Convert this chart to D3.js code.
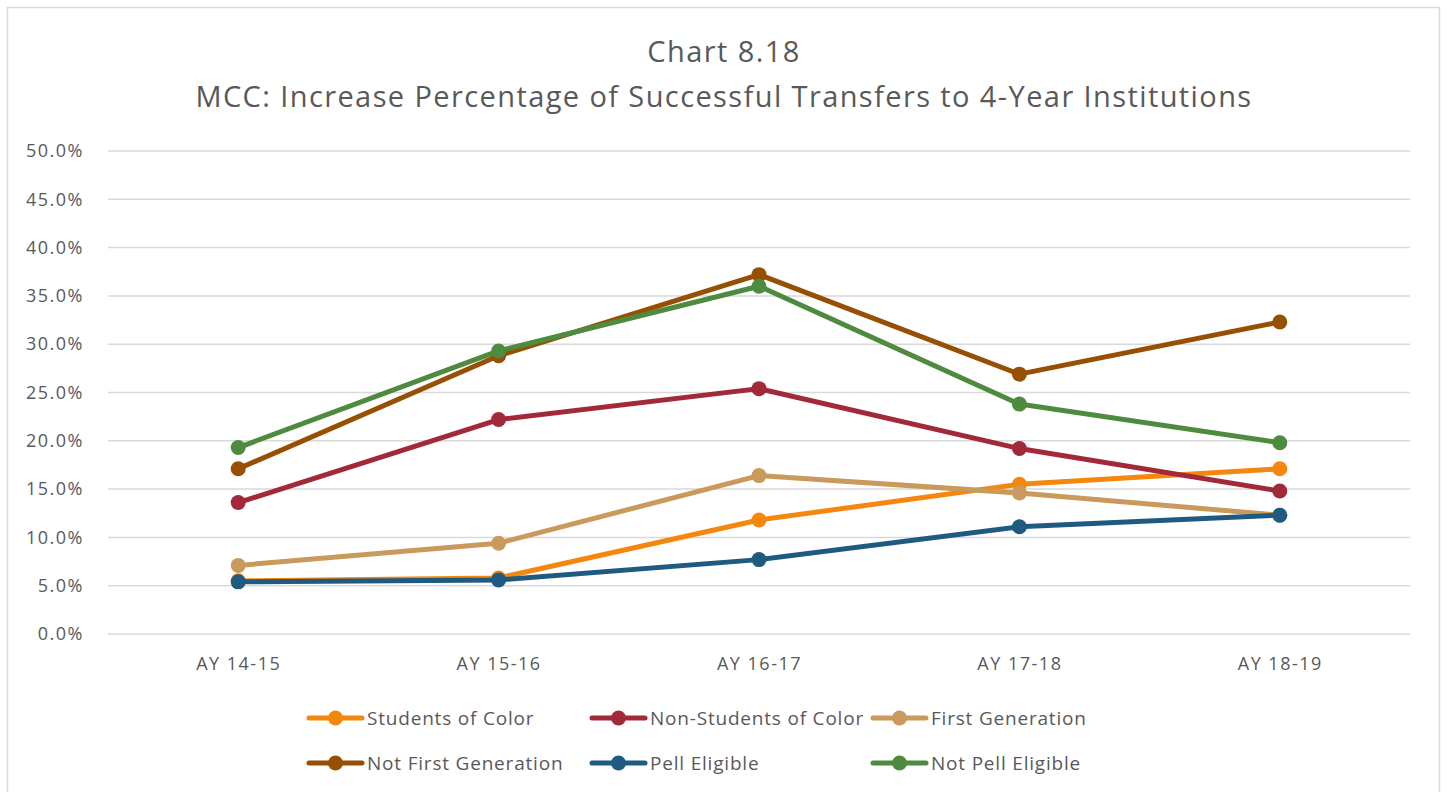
<!DOCTYPE html>
<html>
<head>
<meta charset="utf-8">
<script src="https://cdn.jsdelivr.net/npm/d3@7"></script>
<style>
  body { margin: 0; background: #fff; }
  text { font-family: "Open Sans", "Noto Sans", sans-serif; fill: #595959; }
</style>
</head>
<body>
<script>
// Chart data
let years = ["AY 14-15", "AY 15-16", "AY 16-17", "AY 17-18", "AY 18-19"];
let seriesNames = ["Students of Color", "Non-Students of Color", "First Generation",
  "Not First Generation", "Pell Eligible", "Not Pell Eligible"];
let studentsOfColor = [0.055, 0.058, 0.118, 0.155, 0.171];
let nonStudentsOfColor = [0.136, 0.222, 0.254, 0.192, 0.148];
let firstGeneration = [0.071, 0.094, 0.164, 0.146, 0.123];
let notFirstGeneration = [0.171, 0.288, 0.372, 0.269, 0.323];
let pellEligible = [0.054, 0.056, 0.077, 0.111, 0.123];
let notPellEligible = [0.193, 0.293, 0.360, 0.238, 0.198];
let yTicks = [0, 0.05, 0.1, 0.15, 0.2, 0.25, 0.3, 0.35, 0.4, 0.45, 0.5];

let colors = ["#F5870F", "#A2293A", "#C99A5B", "#964F03", "#1F5A80", "#4E8B3F"];
let values = [studentsOfColor, nonStudentsOfColor, firstGeneration,
  notFirstGeneration, pellEligible, notPellEligible];

let width = 1447, height = 792;
let plot = { left: 108, right: 1410, top: 151, bottom: 634 };

let svg = d3.select("body").append("svg")
  .attr("width", width)
  .attr("height", height);

// chart border
svg.append("rect")
  .attr("x", 7.5).attr("y", 7.5)
  .attr("width", 1432).attr("height", 800)
  .style("fill", "#fff")
  .style("stroke", "#d9d9d9")
  .style("stroke-width", 1.5);

// Title
svg.append("text")
  .attr("x", 724).attr("y", 62)
  .attr("text-anchor", "middle")
  .style("font-size", "29px")
  .style("letter-spacing", "1.4px")
  .text("Chart 8.18");
svg.append("text")
  .attr("x", 724).attr("y", 107)
  .attr("text-anchor", "middle")
  .style("font-size", "29px")
  .style("letter-spacing", "1.4px")
  .text("MCC: Increase Percentage of Successful Transfers to 4-Year Institutions");

let x = d3.scalePoint()
  .domain(years)
  .range([plot.left, plot.right])
  .padding(0.5);

let y = d3.scaleLinear()
  .domain([0, 0.5])
  .range([plot.bottom, plot.top]);

// gridlines
svg.append("g")
  .selectAll("line")
  .data(yTicks)
  .enter().append("line")
  .attr("x1", plot.left).attr("x2", plot.right)
  .attr("y1", d => y(d)).attr("y2", d => y(d))
  .style("stroke", "#d9d9d9")
  .style("stroke-width", 1.5);

// y axis
let yAxis = svg.append("g")
  .attr("transform", "translate(" + (plot.left - 21) + ",0)")
  .call(d3.axisLeft(y).tickValues(yTicks).tickFormat(d3.format(".1%")).tickSize(0));
yAxis.select(".domain").remove();
yAxis.selectAll("text").style("font-size", "18px").style("fill", "#595959")
  .style("letter-spacing", "1.5px")
  .style("font-family", "\"Open Sans\", sans-serif");

// x axis
let xAxis = svg.append("g")
  .attr("transform", "translate(0," + (plot.bottom + 20) + ")")
  .call(d3.axisBottom(x).tickSize(0));
xAxis.select(".domain").remove();
xAxis.selectAll("text").style("font-size", "18px").style("fill", "#595959")
  .style("letter-spacing", "1.5px")
  .style("font-family", "\"Open Sans\", sans-serif");

let line = d3.line()
  .x((d, i) => x(years[i]))
  .y(d => y(d));

// Lines and markers
values.forEach(function(series, index) {
  let g = svg.append("g");
  g.append("path")
    .datum(series)
    .attr("d", line)
    .style("fill", "none")
    .style("stroke", colors[index])
    .style("stroke-width", 5)
    .style("stroke-linejoin", "round");
  g.selectAll("circle")
    .data(series)
    .enter().append("circle")
    .attr("cx", (d, i) => x(years[i]))
    .attr("cy", d => y(d))
    .attr("r", 7.5)
    .style("fill", colors[index]);
});

// Legend
let legendCols = [307, 590, 871];
let legendRows = [718, 763];
seriesNames.forEach(function(name, index) {
  let lx = legendCols[index % 3];
  let ly = legendRows[Math.floor(index / 3)];
  let g = svg.append("g").attr("transform", "translate(" + lx + "," + ly + ")");
  g.append("line")
    .attr("x1", 2).attr("x2", 55)
    .attr("y1", 0).attr("y2", 0)
    .style("stroke", colors[index])
    .style("stroke-width", 5)
    .style("stroke-linecap", "round");
  g.append("circle")
    .attr("cx", 28.5).attr("cy", 0).attr("r", 7.5)
    .style("fill", colors[index]);
  g.append("text")
    .attr("x", 60).attr("y", 0)
    .attr("dy", "0.35em")
    .style("font-size", "19px")
    .style("letter-spacing", "0.8px")
    .text(name);
});
</script>
</body>
</html>
